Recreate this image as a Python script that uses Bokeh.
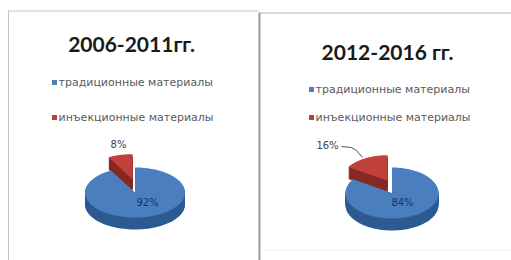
import math
from bokeh.plotting import figure
from bokeh.models import Range1d
from bokeh.core.properties import value
from bokeh.embed import file_html
from bokeh.resources import INLINE

# ---- data ----
periods = ["2006-2011гг.", "2012-2016 гг."]
categories = ["традиционные материалы", "инъекционные материалы"]
traditional = [92, 84]
injection = [8, 16]

# ---- style ----
top_colors = ["#4a7ebf", "#c0403a"]
side_colors = ["#2d5a91", "#862a25"]
explode_x = [0.0, 0.2]
explode_y = [0.0, 0.55]

p = figure(width=511, height=260, x_range=Range1d(0, 511), y_range=Range1d(260, 0),
           output_backend="svg", toolbar_location=None, min_border=0,
           x_axis_location=None, y_axis_location=None)
p.grid.visible = False
p.outline_line_color = None
p.background_fill_color = "white"

# panel frames
p.line(x=[8, 8], y=[10, 260], line_color="#c4c4c4", line_width=1)
p.line(x=[8, 258], y=[10.5, 10.5], line_color="#c4c4c4", line_width=1)
p.line(x=[259, 511], y=[12.5, 12.5], line_color="#b8b8b8", line_width=1)
p.line(x=[259, 259], y=[12, 260], line_color="#9a9a9a", line_width=2)
p.line(x=[260, 511], y=[250, 250], line_color="#f3f3f3", line_width=1)

panels = [
    dict(cx=134.5, cy=192, rx=50, ry=25, depth=12, tx=131, ty=43, lx=54, ly=[82, 117]),
    dict(cx=391.5, cy=192.5, rx=46.5, ry=25.5, depth=12, tx=387, ty=51, lx=311, ly=[89, 117]),
]


def slice_poly(cx, cy, rx, ry, a0, a1, n=120):
    xs, ys = [cx], [cy]
    for i in range(n + 1):
        a = math.radians(a0 + (a1 - a0) * i / n)
        xs.append(cx + rx * math.cos(a))
        ys.append(cy - ry * math.sin(a))
    return xs, ys


for k, pan in enumerate(panels):
    vals = [traditional[k], injection[k]]
    total = sum(vals)
    # slice angles (clockwise from 12 o'clock)
    angles = []
    start = 90.0
    for v in vals:
        end = start - v / total * 360.0
        angles.append((start, end))
        start = end
    # draw back (exploded red) first, then blue
    for j in [1, 0]:
        a0, a1 = angles[j]
        mid = math.radians((a0 + a1) / 2)
        dx = explode_x[j] * pan["rx"] * math.cos(mid)
        dy = -explode_y[j] * pan["ry"] * math.sin(mid)
        xs, ys = slice_poly(pan["cx"] + dx, pan["cy"] + dy, pan["rx"], pan["ry"], a0, a1)
        sx, sy = [], []
        for d in range(pan["depth"], 0, -1):
            sx.append(xs)
            sy.append([y + d for y in ys])
        p.patches(xs=sx, ys=sy, fill_color=side_colors[j], line_color=None)
        p.patch(x=xs, y=ys, fill_color=top_colors[j], line_color=None)

    # title
    p.text(x=[pan["tx"]], y=[pan["ty"]], text=[periods[k]], text_font=value("Lato"),
           text_font_style="bold", text_font_size="21px", text_color="#1a1a1a",
           text_align="center", text_baseline="middle")
    # legend
    for j, cat in enumerate(categories):
        p.rect(x=[pan["lx"]], y=[pan["ly"][j]], width=5, height=5,
               fill_color=top_colors[j], line_color=None)
        p.text(x=[pan["lx"] + 4], y=[pan["ly"][j]], text=[cat], text_font=value("DejaVu Sans"),
               text_font_size="11px", text_color="#5a5a5a", text_align="left",
               text_baseline="middle")

# data labels
p.text(x=[147, 402], y=[202, 202], text=[f"{traditional[0]}%", f"{traditional[1]}%"],
       text_font=value("DejaVu Sans"), text_font_size="10px", text_color="#1c3158",
       text_align="center", text_baseline="middle")
p.text(x=[118, 327], y=[144, 145], text=[f"{injection[0]}%", f"{injection[1]}%"],
       text_font=value("DejaVu Sans"), text_font_size="10px", text_color="#404040",
       text_align="center", text_baseline="middle")
# leader line for right panel label
p.line(x=[341, 351, 356, 362], y=[146, 147, 150, 157], line_color="#555555", line_width=1)

open("out.html", "w").write(file_html(p, INLINE))
